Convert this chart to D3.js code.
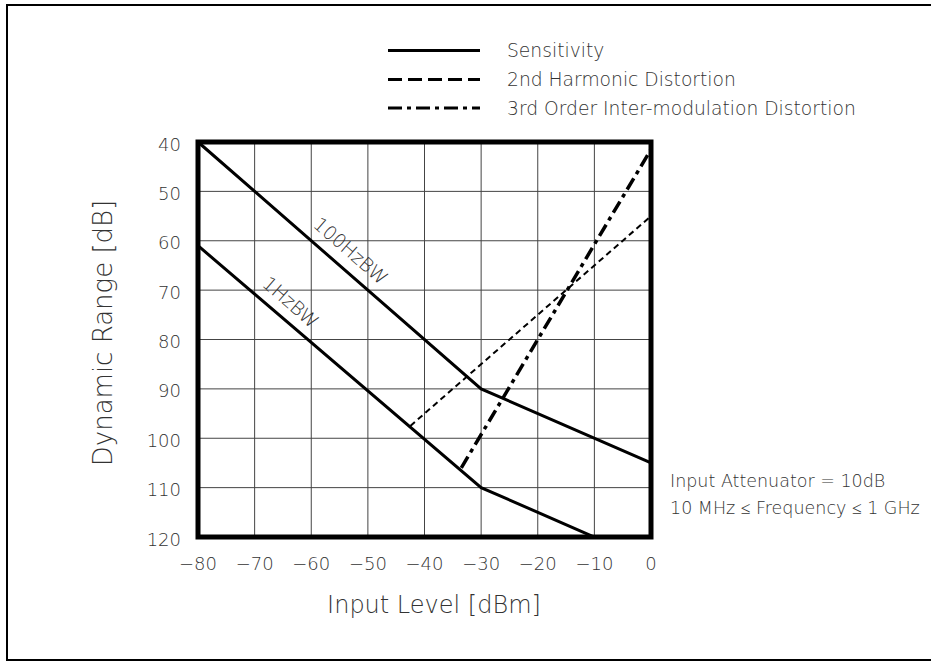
<!DOCTYPE html>
<html><head><meta charset="utf-8">
<script src="https://cdn.jsdelivr.net/npm/d3@7"></script>
<style>body{margin:0;background:#fff}text{font-family:"DejaVu Sans";font-weight:200;fill:#333}</style>
</head><body>
<script>
const xTicks=[-80,-70,-60,-50,-40,-30,-20,-10,0];
const yTicks=[40,50,60,70,80,90,100,110,120];
const sens100=[[-80,40],[-30,90],[0,105]];
const sens1=[[-80,61],[-30,110],[-10,120]];
const harm2=[[-42.5,97.5],[0,55]];
const imd3=[[-33.5,106],[0,41.5]];
const legendLabels=["Sensitivity","2nd Harmonic Distortion","3rd Order Inter-modulation Distortion"];
const notes=["Input Attenuator = 10dB","10 MHz \u2264 Frequency \u2264 1 GHz"];

const W=931,H=662;
const svg=d3.select("body").append("svg").attr("width",W).attr("height",H);
svg.append("rect").attr("x",7).attr("y",5).attr("width",940).attr("height",655)
  .attr("fill","none").attr("stroke","#000").attr("stroke-width",2);

const x=d3.scaleLinear().domain([-80,0]).range([198,651]);
const y=d3.scaleLinear().domain([40,120]).range([142,537]);

const g=svg.append("g");
g.selectAll(".vg").data(xTicks).join("line").attr("x1",d=>x(d)).attr("x2",d=>x(d))
  .attr("y1",y(40)).attr("y2",y(120)).attr("stroke","#444").attr("stroke-width",1);
g.selectAll(".hg").data(yTicks).join("line").attr("y1",d=>y(d)).attr("y2",d=>y(d))
  .attr("x1",x(-80)).attr("x2",x(0)).attr("stroke","#444").attr("stroke-width",1);

const line=d3.line().x(d=>x(d[0])).y(d=>y(d[1]));
g.append("path").attr("d",line(sens100)).attr("fill","none").attr("stroke","#000").attr("stroke-width",3);
g.append("path").attr("d",line(sens1)).attr("fill","none").attr("stroke","#000").attr("stroke-width",3);
g.append("path").attr("d",line(harm2)).attr("fill","none").attr("stroke","#000").attr("stroke-width",2).attr("stroke-dasharray","6,4");
g.append("path").attr("d",line(imd3)).attr("fill","none").attr("stroke","#000").attr("stroke-width",3.5).attr("stroke-dasharray","13,5,4,5");

g.append("rect").attr("x",x(-80)).attr("y",y(40)).attr("width",x(0)-x(-80)).attr("height",y(120)-y(40))
  .attr("fill","none").attr("stroke","#000").attr("stroke-width",5);

// tick labels
svg.selectAll(".yl").data(yTicks).join("text").attr("x",181).attr("y",d=>y(d)+2)
  .attr("text-anchor","end").attr("dominant-baseline","central").style("font-size","18px").text(d=>d);
svg.selectAll(".xl").data(xTicks).join("text").attr("x",d=>x(d)).attr("y",563)
  .attr("text-anchor","middle").attr("dominant-baseline","central").style("font-size","18px")
  .text(d=>d<0?"\u2212"+Math.abs(d):d);

svg.append("text").attr("transform","translate(103,333) rotate(-90)").attr("text-anchor","middle")
  .attr("dominant-baseline","central").style("font-size","26px").text("Dynamic Range [dB]");
svg.append("text").attr("x",434).attr("y",605).attr("text-anchor","middle")
  .attr("dominant-baseline","central").style("font-size","24px").text("Input Level [dBm]");

// curve labels
const ang=Math.atan2(y(41)-y(40),x(1)-x(0))*180/Math.PI;
svg.append("text").attr("transform",`translate(${x(-53)},${y(62)}) rotate(${ang})`).attr("text-anchor","middle")
  .attr("dominant-baseline","central").style("font-size","19px").text("100HzBW");
svg.append("text").attr("transform",`translate(${x(-63.6)},${y(72.4)}) rotate(${ang})`).attr("text-anchor","middle")
  .attr("dominant-baseline","central").style("font-size","19px").text("1HzBW");

// legend
const dashes=[null,"14,6","14,5,4,5"];
const ly=[50.5,79.5,108];
legendLabels.forEach((t,i)=>{
  svg.append("line").attr("x1",388).attr("x2",480).attr("y1",ly[i]).attr("y2",ly[i])
    .attr("stroke","#000").attr("stroke-width",3).attr("stroke-dasharray",dashes[i]);
  svg.append("text").attr("x",507).attr("y",ly[i]).attr("dominant-baseline","central")
    .style("font-size","18.7px").text(t);
});
notes.forEach((t,i)=>{
  svg.append("text").attr("x",670).attr("y",481+i*27).attr("dominant-baseline","central")
    .style("font-size","17.5px").text(t);
});
</script>
</body></html>
